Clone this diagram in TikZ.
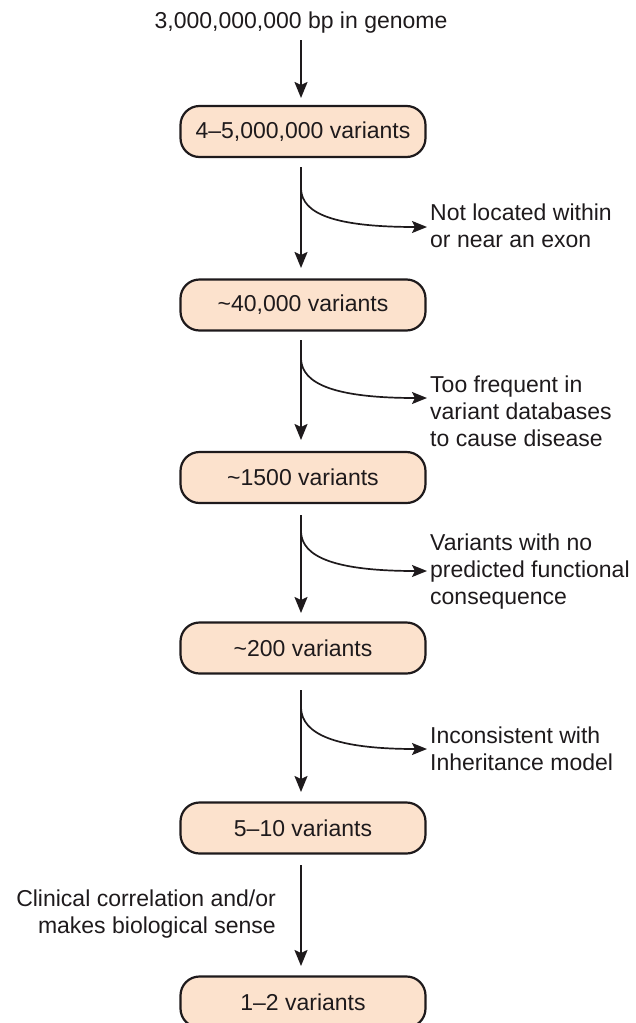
\documentclass[tikz,border=0pt]{standalone}
\usepackage{fontspec}
\setmainfont{Liberation Sans}
\usetikzlibrary{arrows.meta}
\definecolor{boxfill}{HTML}{FCE2CD}
\definecolor{ink}{HTML}{1E1A1C}
\begin{document}
\begin{tikzpicture}[x=1pt,y=-1pt,
  every node/.style={text=ink,font=\fontsize{23}{27}\selectfont},
  stage/.style={draw=ink,line width=2.2pt,fill=boxfill,rounded corners=19pt,
    minimum width=245pt,minimum height=51pt,inner sep=0pt},
  lbl/.style={align=left,anchor=west,inner sep=0pt},
  arr/.style={draw=ink,line width=2pt,-{Stealth[length=16pt,width=13pt,inset=3pt]}},
  brarr/.style={draw=ink,line width=1.7pt,-{Stealth[length=15pt,width=12pt,inset=3pt]}}]
\useasboundingbox (0,0) rectangle (635,1023);
\clip (0,0) rectangle (635,1023);

\node[anchor=base,inner sep=0pt] (top) at (301,28) {3,000,000,000 bp in genome};

\node[stage] (b1) at (303,131.5) {4--5,000,000 variants};
\node[stage] (b2) at (303,305) {\textasciitilde40,000 variants};
\node[stage] (b3) at (303,477.5) {\textasciitilde1500 variants};
\node[stage] (b4) at (303,648) {\textasciitilde200 variants};
\node[stage] (b5) at (303,828) {5--10 variants};
\node[stage] (b6) at (303,1002) {1--2 variants};

% main arrows
\coordinate (a0) at (301,40);
\coordinate (t1) at (301,98);
\draw[arr] (a0) -- (t1);
\coordinate (s1) at (301,167); \coordinate (e1) at (301,268);
\coordinate (s2) at (301,340); \coordinate (e2) at (301,440);
\coordinate (s3) at (301,515); \coordinate (e3) at (301,613);
\coordinate (s4) at (301,690); \coordinate (e4) at (301,792);
\coordinate (s5) at (301,865); \coordinate (e5) at (301,966);
\draw[arr] (s1) -- (e1);
\draw[arr] (s2) -- (e2);
\draw[arr] (s3) -- (e3);
\draw[arr] (s4) -- (e4);
\draw[arr] (s5) -- (e5);

% labels
\node[lbl] (l1) at (430,226) {Not located within\\or near an exon};
\node[lbl] (l2) at (430,411) {Too frequent in\\variant databases\\to cause disease};
\node[lbl] (l3) at (430,572) {Variants with no\\predicted functional\\consequence};
\node[lbl] (l4) at (430,749) {Inconsistent with\\Inheritance model};
\node[align=right,anchor=east,inner sep=0pt] (l5) at (276,914) {Clinical correlation and/or\\makes biological sense};

% branch arrows
\coordinate (c1) at (301,189);
\draw[brarr] (c1) .. controls (302,214) and (335,227) .. ([xshift=-3pt]l1.west |- 0,227);
\coordinate (c2) at (301,359);
\draw[brarr] (c2) .. controls (302,384) and (335,398) .. ([xshift=-3pt]l2.west |- 0,398);
\coordinate (c3) at (301,532);
\draw[brarr] (c3) .. controls (302,557) and (335,571) .. ([xshift=-3pt]l3.west |- 0,571);
\coordinate (c4) at (301,708);
\draw[brarr] (c4) .. controls (302,734) and (335,749) .. ([xshift=-3pt]l4.west |- 0,749);
\end{tikzpicture}
\end{document}
